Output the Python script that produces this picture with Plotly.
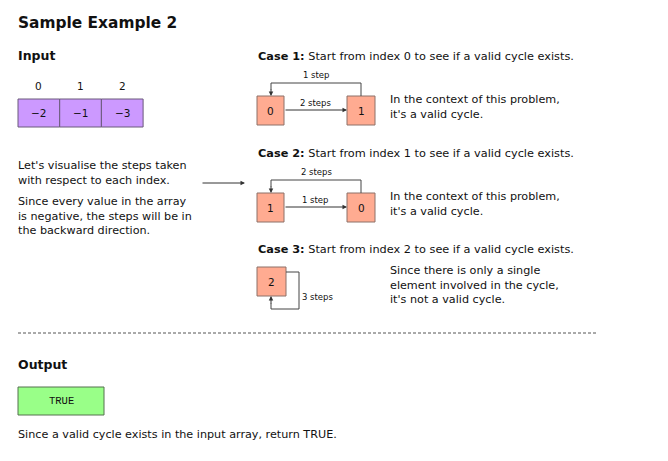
import plotly.graph_objects as go

# input array shown in the example
array_index = [0, 1, 2]
array_values = [-2, -1, -3]

# cases: start index for each case, and the comment next to it
case_starts = [0, 1, 2]
case_notes = [
    "In the context of this problem,<br>it's a valid cycle.",
    "In the context of this problem,<br>it's a valid cycle.",
    "Since there is only a single<br>element involved in the cycle,<br>it's not a valid cycle.",
]
result_text = "TRUE"
result_note = "Since a valid cycle exists in the input array, return TRUE."

FONT = "DejaVu Sans"
BODY = 11.2
PURPLE, PURPLE_LINE = "#cc99ff", "#6b5a7b"
SALMON, SALMON_LINE = "#ffab91", "#8c7068"
GREEN, GREEN_LINE = "#99ff88", "#55704f"

fig = go.Figure()
shapes = []
notes = []


def text(x, y, s, size=BODY, bold=False, anchor="left", family=FONT, color="#111"):
    if bold:
        s = "<b>" + s + "</b>"
    if anchor == "left":
        x -= 2  # annotation padding
    notes.append(dict(x=x, y=y, text=s, showarrow=False, xanchor=anchor, yanchor="middle",
                      align="left", font=dict(family=family, size=size, color=color)))


def box(x0, y0, x1, y1, fill, line):
    shapes.append(dict(type="rect", x0=x0, y0=y0, x1=x1, y1=y1, fillcolor=fill,
                       line=dict(color=line, width=1)))


def arrow(x0, y0, x1, y1):
    notes.append(dict(x=x1, y=y1, ax=x0, ay=y0, xref="x", yref="y", axref="x", ayref="y",
                      text="", showarrow=True, arrowhead=2, arrowsize=0.9, arrowwidth=1,
                      arrowcolor="#333"))


def path(points):
    d = "M " + " L ".join(f"{x},{y}" for x, y in points)
    shapes.append(dict(type="path", path=d, line=dict(color="#444", width=1)))


text(18, 23, "Sample Example 2", size=15.4, bold=True)
text(18, 55, "Input", size=12.5, bold=True)

# array
cw = 41.7
for i, v in zip(array_index, array_values):
    x0 = 18 + i * cw
    box(x0, 99, x0 + cw, 127, PURPLE, PURPLE_LINE)
    text(x0 + cw / 2, 86, str(i), size=10.5, anchor="center")
    text(x0 + cw / 2, 113, "\u2212" + str(abs(v)), size=10.5, anchor="center")

text(18, 173, "Let's visualise the steps taken<br>with respect to each index.")
text(18, 216, "Since every value in the array<br>is negative, the steps will be in<br>the backward direction.")
arrow(201, 183, 245, 183)

n = len(array_values)
case_tops = [56, 153, 249]
for k, (start, note, ty) in enumerate(zip(case_starts, case_notes, case_tops)):
    text(258, ty, f"<b>Case {k + 1}:</b> Start from index {start} to see if a valid cycle exists.", size=11.3)
    # follow the steps from the start index
    path_nodes, steps = [start], []
    cur = start
    while True:
        s = abs(array_values[cur])
        steps.append(s)
        cur = (cur + array_values[cur]) % n
        if cur == start:
            break
        path_nodes.append(cur)
    lab = lambda s: f"{s} step" + ("s" if s > 1 else "")
    by = ty + 40
    if len(path_nodes) == 2:
        a, b = path_nodes
        box(257, by, 284, by + 29, SALMON, SALMON_LINE)
        box(347, by, 375, by + 29, SALMON, SALMON_LINE)
        text(270.5, by + 14.5, str(a), size=10.5, anchor="center")
        text(361, by + 14.5, str(b), size=10.5, anchor="center")
        arrow(284, by + 14, 347, by + 14)
        text(315, by + 7, lab(steps[0]), size=8.5, anchor="center")
        path([(361, by), (361, by - 13), (271, by - 13), (271, by - 6)])
        arrow(271, by - 8, 271, by)
        text(316, by - 21, lab(steps[1]), size=8.5, anchor="center")
        text(390, by + 11, note)
    else:
        by = ty + 18
        box(257, by, 286, by + 29, SALMON, SALMON_LINE)
        text(271.5, by + 14.5, str(path_nodes[0]), size=10.5, anchor="center")
        path([(286, by + 5), (299, by + 5), (299, by + 42), (271, by + 42), (271, by + 36)])
        arrow(271, by + 38, 271, by + 29)
        text(302, by + 30, lab(steps[0]), size=8.5)
        text(390, by + 18, note)

shapes.append(dict(type="line", x0=18, y0=333, x1=596, y1=333,
                   line=dict(color="#555", width=1, dash="3px,2px")))

text(18, 364, "Output", size=12.5, bold=True)
box(18, 387, 104, 415, GREEN, GREEN_LINE)
text(61, 401, result_text, size=10.5, anchor="center", family="Liberation Mono")
text(18, 434, result_note)

# the page sits 8px in from the window edge, so shift the ranges to keep pixel coordinates
fig.update_layout(
    width=668, height=461, margin=dict(l=0, r=0, t=0, b=0),
    plot_bgcolor="white", paper_bgcolor="white",
    xaxis=dict(range=[8, 676], visible=False, fixedrange=True),
    yaxis=dict(range=[469, 8], visible=False, fixedrange=True),
    shapes=shapes, annotations=notes, showlegend=False,
)
fig.write_html("out.html")
